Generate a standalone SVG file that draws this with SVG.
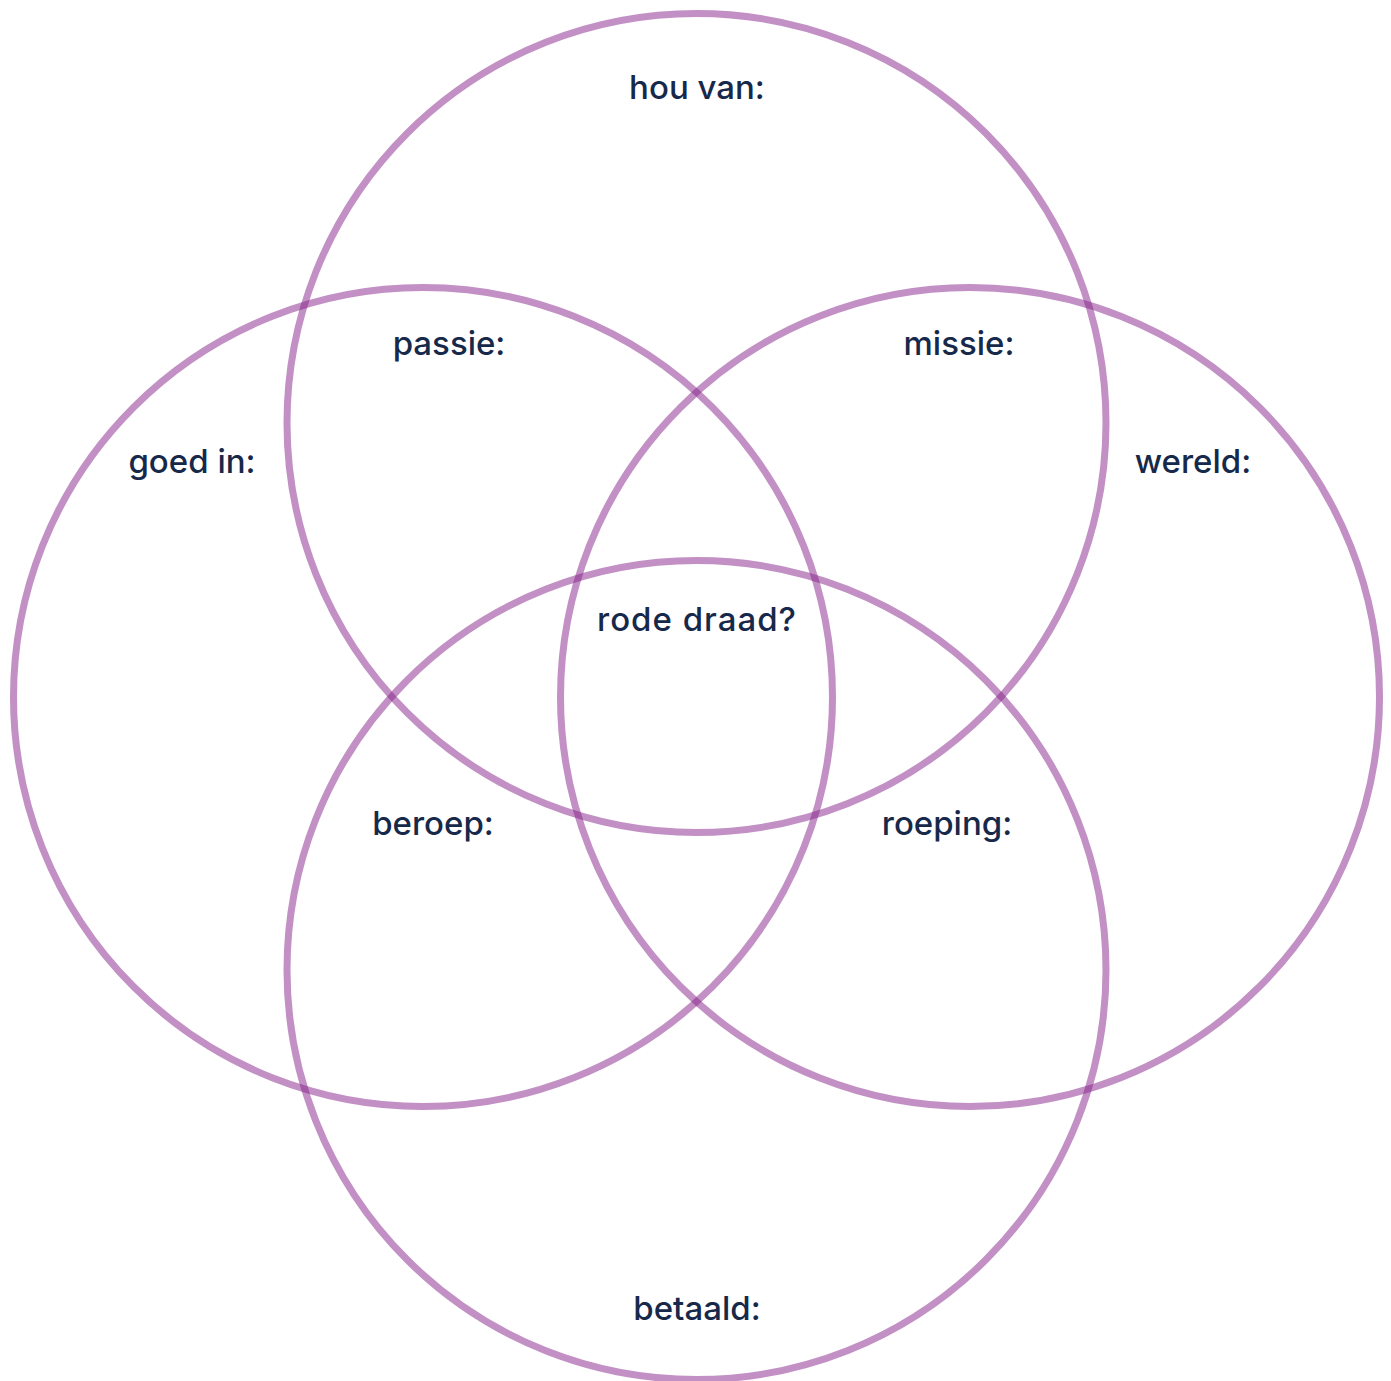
<svg xmlns="http://www.w3.org/2000/svg" width="1391" height="1381" viewBox="0 0 1391 1381">
<style>
.c{fill:none;stroke:#852189;stroke-opacity:0.5;stroke-width:7}
.t{font-family:Inter,"Noto Sans",sans-serif;font-size:33px;font-weight:500;fill:#17294a;text-anchor:middle}
</style>
<rect width="1391" height="1381" fill="#fff"/>
<g id="connectors"></g>
<g id="circle-top"><circle class="c" cx="696.5" cy="423" r="409.5"/></g>
<g id="circle-left"><circle class="c" cx="423" cy="697" r="409.5"/></g>
<g id="circle-right"><circle class="c" cx="970" cy="697" r="409.5"/></g>
<g id="circle-bottom"><circle class="c" cx="696.5" cy="970" r="409.5"/></g>
<g id="label-hou"><text class="t" x="697" y="99">hou van:</text></g>
<g id="label-passie"><text class="t" x="449" y="355">passie:</text></g>
<g id="label-missie"><text class="t" x="959" y="355">missie:</text></g>
<g id="label-goed"><text class="t" x="192" y="473">goed in:</text></g>
<g id="label-wereld"><text class="t" x="1193" y="473">wereld:</text></g>
<g id="label-rode"><text class="t" x="697" y="631" letter-spacing="1">rode draad?</text></g>
<g id="label-beroep"><text class="t" x="433" y="835">beroep:</text></g>
<g id="label-roeping"><text class="t" x="947" y="835">roeping:</text></g>
<g id="label-betaald"><text class="t" x="697" y="1320">betaald:</text></g>
</svg>
